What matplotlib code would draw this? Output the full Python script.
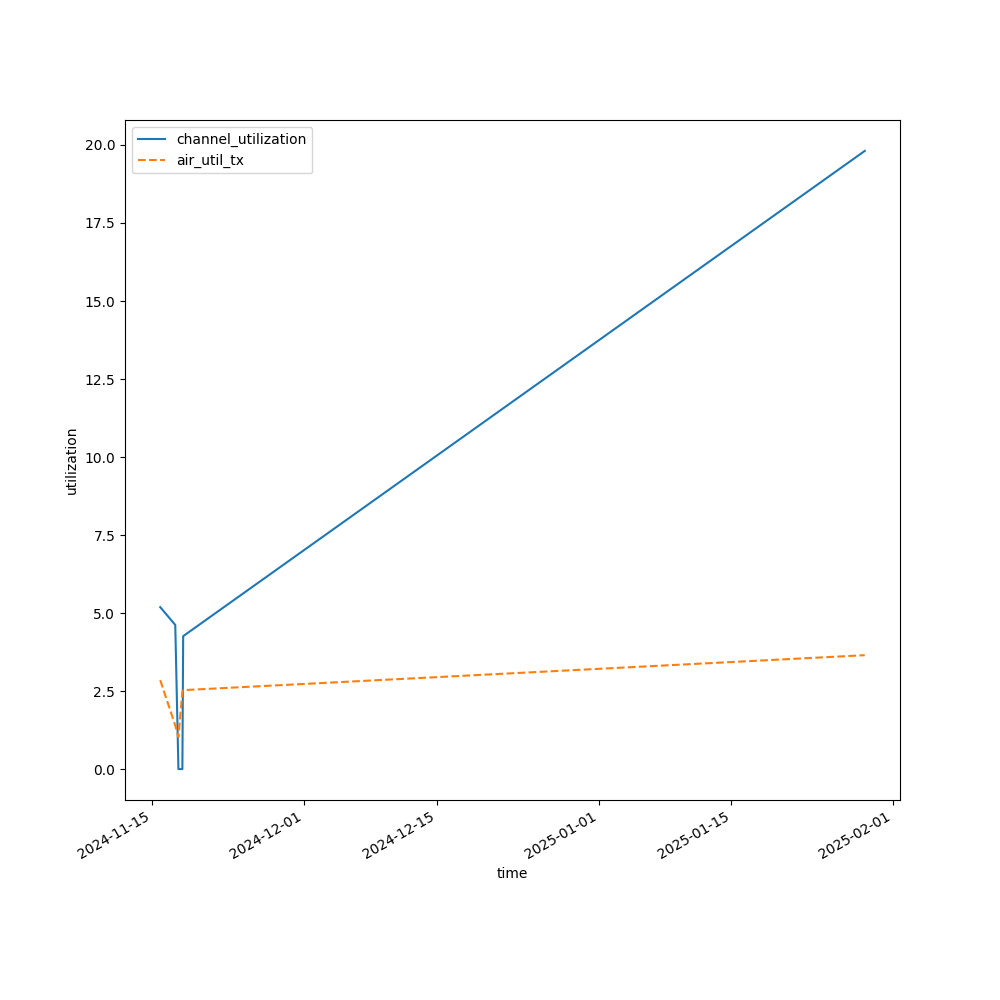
import pandas as pd
from matplotlib import pyplot as plt

times = pd.to_datetime([
    "2024-11-15 20:00",
    "2024-11-17 10:00",
    "2024-11-17 18:00",
    "2024-11-18 04:00",
    "2024-11-18 06:00",
    "2025-01-29 01:00",
])
channel_utilization = [5.19, 4.62, 0.0, 0.0, 4.26, 19.81]
air_util_tx = [2.85, 1.40, 1.03, 2.48, 2.53, 3.65]

fig, ax = plt.subplots(figsize=(10, 10), dpi=100)
ax.plot(times, channel_utilization, label="channel_utilization")
ax.plot(times, air_util_tx, linestyle="--", label="air_util_tx")
ax.set_xlabel("time")
ax.set_ylabel("utilization")
ax.legend(loc="upper left")
fig.autofmt_xdate()
fig.savefig("out.png")
